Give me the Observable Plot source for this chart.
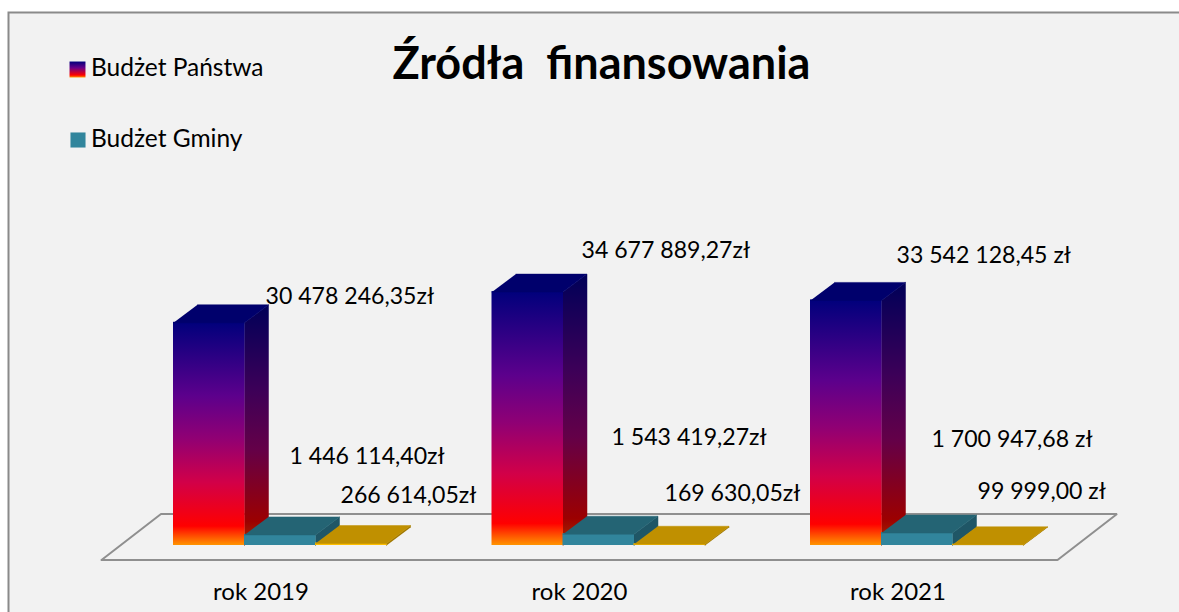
<!DOCTYPE html>
<html lang="pl">
<head>
<meta charset="utf-8">
<script src="https://cdn.jsdelivr.net/npm/d3@7"></script>
<script src="https://cdn.jsdelivr.net/npm/@observablehq/plot@0.6"></script>
<style>
html,body{margin:0;padding:0;background:#fff;overflow:hidden}
svg{display:block}
</style>
</head>
<body>
<div id="chart"></div>
<script>
// data
const years = ["rok 2019", "rok 2020", "rok 2021"];
const seriesNames = ["Budżet Państwa", "Budżet Gminy"];
const budzetPanstwa = [30478246.35, 34677889.27, 33542128.45];
const budzetGminy = [1446114.40, 1543419.27, 1700947.68];
const pozostale = [266614.05, 169630.05, 99999.00];
const labelsPanstwa = ["30 478 246,35zł", "34 677 889,27zł", "33 542 128,45 zł"];
const labelsGminy = ["1 446 114,40zł", "1 543 419,27zł", "1 700 947,68 zł"];
const labelsPozostale = ["266 614,05zł", "169 630,05zł", "99 999,00 zł"];

// layout
const W = 1179, H = 612;
const barPx = 71, groupPx = 318.5, leftPx = 173, basePx = 545, pxPerZl = 7.307e-6;
const depthX = 24 / barPx, depthY = 18 / pxPerZl;
const groupStep = groupPx / barPx;
const labelOffsets = [
  [[92, -26], [89.5, -42], [86, -45]],
  [[45, -78], [48.5, -97], [50, -93]],
  [[25, -48], [30.5, -51], [25, -53]]
];
const font = "Lato, Carlito, sans-serif";

const series = [
  {values: budzetPanstwa, labels: labelsPanstwa, front: "url(#gFront)", side: "url(#gSide)", top: "#00006c"},
  {values: budzetGminy, labels: labelsGminy, front: "#31859c", side: "#1f5666", top: "#246474"},
  {values: pozostale, labels: labelsPozostale, front: "#ffc000", side: "#a07800", top: "#c09000"}
];

const bars = series.flatMap((s, si) => s.values.map((v, gi) => {
  const x0 = gi * groupStep + si;
  return {si, gi, v, x0, x1: x0 + 1, label: s.labels[gi], off: labelOffsets[si][gi], s};
}));

const poly = (b, pts) => pts.map(([x, y]) => ({id: `${b.si}-${b.gi}`, x, y}));
const sidePts = b => poly(b, [[b.x1, 0], [b.x1, b.v], [b.x1 + depthX, b.v + depthY], [b.x1 + depthX, depthY]]);
const topPts = b => poly(b, [[b.x0, b.v], [b.x1, b.v], [b.x1 + depthX, b.v + depthY], [b.x0 + depthX, b.v + depthY]]);

// floor polygon, expressed in bar widths and depth steps
const fl = -72 / barPx, fr = 884 / barPx, fy0 = -14.5 / pxPerZl, fy1 = 31.5 / pxPerZl, fs0 = 59.5 / barPx;
const floor = [[fl, fy0], [fr, fy0], [fr + fs0, fy1], [fl + fs0, fy1], [fl, fy0]].map(([x, y]) => ({x, y}));

const defs = () => {
  const g = d3.create("svg:g");
  g.html(`<defs>
    <linearGradient id="gFront" x1="0" y1="0" x2="0" y2="1">
      <stop offset="0" stop-color="#00007c"/><stop offset=".33" stop-color="#5c008c"/>
      <stop offset=".52" stop-color="#900074"/><stop offset=".72" stop-color="#d20048"/>
      <stop offset=".915" stop-color="#ff0000"/><stop offset="1" stop-color="#ff9400"/>
    </linearGradient>
    <linearGradient id="gSide" x1="0" y1="0" x2="0" y2="1">
      <stop offset="0" stop-color="#000058"/><stop offset=".35" stop-color="#3c0058"/>
      <stop offset=".6" stop-color="#640048"/><stop offset=".9" stop-color="#9c0000"/>
      <stop offset="1" stop-color="#a83000"/>
    </linearGradient>
    <linearGradient id="gSwatch" x1="0" y1="0" x2="0" y2="1">
      <stop offset="0" stop-color="#00007c"/><stop offset=".4" stop-color="#6a0088"/>
      <stop offset=".85" stop-color="#ff0000"/><stop offset="1" stop-color="#ff9400"/>
    </linearGradient></defs>`);
  return g.node();
};

const barMarks = bars.flatMap(b => [
  Plot.line(sidePts(b), {x: "x", y: "y", z: "id", fill: b.s.side, stroke: b.s.side, strokeWidth: 0.5}),
  Plot.rect([b], {x1: "x0", x2: "x1", y1: 0, y2: "v", fill: b.s.front, insetTop: -0.5, insetRight: -0.5}),
  Plot.line(topPts(b), {x: "x", y: "y", z: "id", fill: b.s.top, stroke: b.s.top, strokeWidth: 0.5})
]);

const valueLabels = bars.map(b => Plot.text([b], {
  x: "x0", y: "v", text: "label", dx: b.off[0], dy: b.off[1],
  textAnchor: "start", fontFamily: font, fontSize: 23.1, fill: "#000"
}));

const chart = Plot.plot({
  width: W, height: H,
  marginTop: 0, marginRight: 0, marginBottom: 0, marginLeft: 0,
  x: {type: "linear", domain: [-leftPx / barPx, (W - leftPx) / barPx], range: [0, W], axis: null},
  y: {type: "linear", domain: [(basePx - H) / pxPerZl, basePx / pxPerZl], range: [H, 0], axis: null},
  style: {background: "#fff", overflow: "hidden"},
  marks: [
    defs,
    Plot.frame({fill: "#f2f2f2", stroke: "#8a8a8a", strokeWidth: 2, insetLeft: 8, insetTop: 12, insetRight: -6, insetBottom: -6}),
    Plot.line(floor, {x: "x", y: "y", stroke: "#8f8f8f", strokeWidth: 2, fill: "none", strokeLinejoin: "miter"}),
    ...barMarks,
    ...valueLabels,
    Plot.text(years, {
      x: (d, i) => i * groupStep, frameAnchor: "bottom", lineAnchor: "middle", dx: 87.5, dy: -20, text: d => d,
      textAnchor: "middle", fontFamily: font, fontSize: 24, fill: "#000"
    }),
    Plot.text(["Źródła  finansowania"], {
      frameAnchor: "top-left", dx: 392, dy: 64, text: d => d, lineAnchor: "middle",
      fontFamily: font, fontSize: 45, fontWeight: 700, fill: "#000"
    }),
    Plot.dot([seriesNames[0]], {frameAnchor: "top-left", dx: 77, dy: 69, r: 9, symbol: "square", fill: "url(#gSwatch)", stroke: "none"}),
    Plot.dot([seriesNames[1]], {frameAnchor: "top-left", dx: 77.5, dy: 139.5, r: 8.5, symbol: "square", fill: "#31859c", stroke: "none"}),
    Plot.text([seriesNames[0]], {frameAnchor: "top-left", dx: 90.5, dy: 68, text: d => d, lineAnchor: "middle", fontFamily: font, fontSize: 24.5, fill: "#000"}),
    Plot.text([seriesNames[1]], {frameAnchor: "top-left", dx: 90.5, dy: 139, text: d => d, lineAnchor: "middle", fontFamily: font, fontSize: 24.5, fill: "#000"})
  ]
});
document.getElementById("chart").append(chart);
</script>
</body>
</html>
